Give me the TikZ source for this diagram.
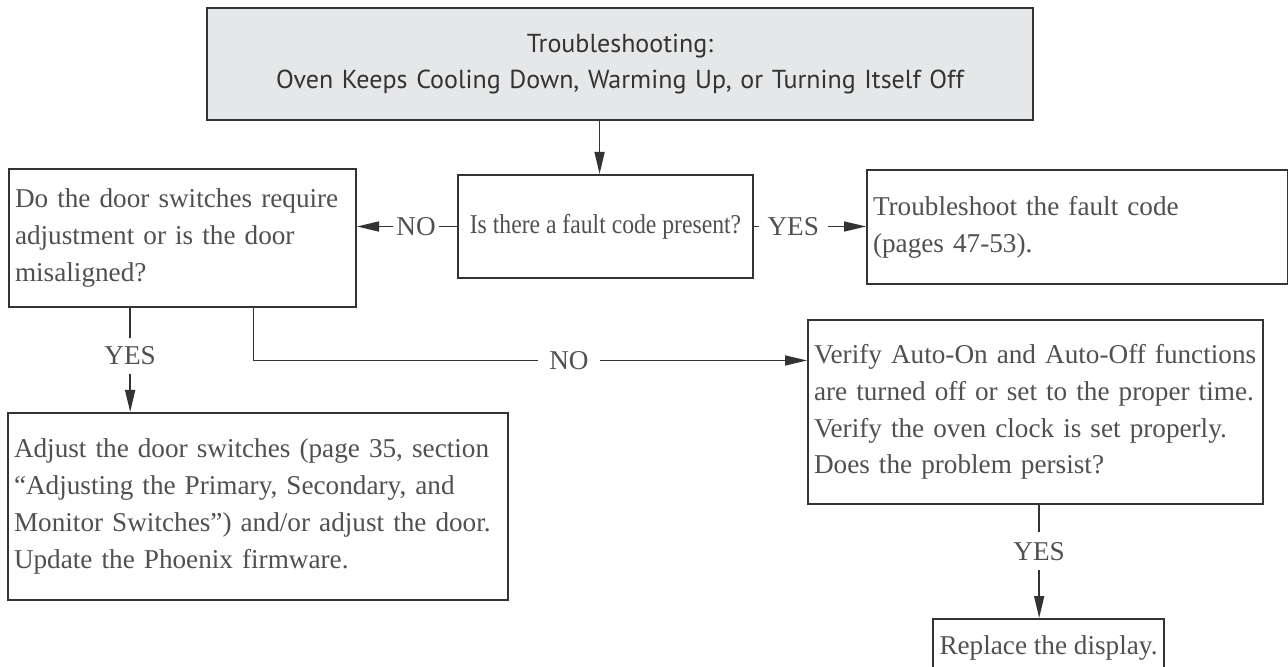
\documentclass[tikz,border=0pt]{standalone}
\usepackage{fontspec}
\setmainfont{Liberation Serif}
\newfontfamily\titlefont{PT Sans}
\usetikzlibrary{arrows.meta,positioning,calc}
\definecolor{ink}{HTML}{505050}
\definecolor{rule}{HTML}{333333}
\definecolor{shade}{HTML}{E6E7E8}
\newcommand{\bodyfont}{\fontsize{13.6}{18.4}\selectfont}
\newcommand{\headfont}{\titlefont\fontsize{13}{18}\selectfont}

\begin{document}
\begin{tikzpicture}[
  x=0.5pt, y=-0.5pt,
  every node/.style={text=ink},
  box/.style={draw=rule, line width=1pt, fill=white, align=left,
              inner xsep=3pt, inner ysep=0pt, anchor=north west, font=\bodyfont},
  flow/.style={-{Triangle[length=11pt,width=5pt]}, line width=0.75pt, color=rule},
  tag/.style={fill=white, font=\bodyfont, inner xsep=#1, inner ysep=0pt},
  vtag/.style={fill=white, font=\bodyfont, inner xsep=0pt, inner ysep=#1},
]
\clip (0,0) rectangle (1288,667);
\fill[white] (0,0) rectangle (1288,667);

% ---------------------------------------------------------------- heading
\node[box, fill=shade, align=center, font=\headfont, text=rule,
      text width=407pt, minimum height=56pt] (title) at (206,7)
  {Troubleshooting:\\Oven Keeps Cooling Down, Warming Up, or Turning Itself Off};

% ---------------------------------------------------------------- row 1
\node[box, font=\bodyfont\addfontfeature{FakeStretch=0.87},
      minimum width=147.5pt, minimum height=51.5pt] (fault) at (457,174)
  {Is there a fault code present?};

\node[box, text width=204.5pt, minimum height=57pt] (code) at (866,169)
  {Troubleshoot the fault code\\(pages 47-53).};

\node[box, text width=167.5pt, minimum height=69pt] (door) at (8,168)
  {Do the door switches require\\adjustment or is the door\\misaligned?};

% ---------------------------------------------------------------- row 2
\node[box, text width=244pt, minimum height=93.5pt] (adjust) at (7,412)
  {Adjust the door switches (page 35, section\\
   ``Adjusting the Primary, Secondary, and\\
   Monitor Switches'') and/or adjust the door.\\
   Update the Phoenix firmware.};

\node[box, text width=221.5pt, minimum height=92pt] (verify) at (807,319)
  {Verify Auto-On and Auto-Off functions\\
   are turned off or set to the proper time.\\
   Verify the oven clock is set properly.\\
   Does the problem persist?};

\node[box, minimum width=115.5pt, inner xsep=1pt, inner ysep=8.1pt,
      text height=9.4pt, text depth=14.4pt] (display) at (932,618)
  {Replace the display.};

% ---------------------------------------------------------------- flow
\coordinate (fin)  at ($(fault.north west)!0.48!(fault.north east)$);
\coordinate (dyes) at ($(door.south west)!0.35!(door.south east)$);
\coordinate (dno)  at ($(door.south west)!0.703!(door.south east)$);
\coordinate (vin)  at ($(verify.north west)!0.223!(verify.south west)$);
\coordinate (vyes) at ($(verify.south west)!0.508!(verify.south east)$);

\draw[flow] (title.south -| fin) -- (fin);
\draw[flow] (fault.west) -- node[tag=1.5pt, pos=0.41] {NO} (fault.west -| door.east);
\draw[flow] (fault.east) -- node[tag=4.5pt, pos=0.35] {YES} (fault.east -| code.west);
\draw[flow] (dyes) -- node[vtag=4.5pt, pos=0.46] {YES} (dyes |- adjust.north);
\draw[flow] (dno) |- node[tag=5.5pt, pos=0.785] {NO} (vin);
\draw[flow] (vyes) -- node[vtag=5pt, pos=0.41] {YES} (vyes |- display.north);

\end{tikzpicture}
\end{document}
